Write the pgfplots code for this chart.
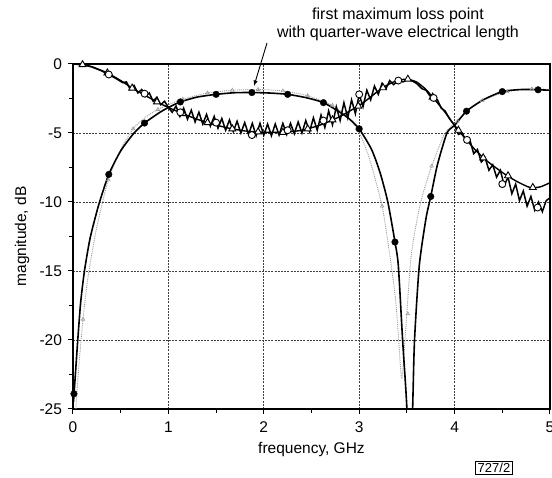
\documentclass[border=0pt]{standalone}
\usepackage{fontspec}
\setmainfont{Liberation Sans}
\usepackage{pgfplots}
\pgfplotsset{compat=1.18}

% measured S21 (thick, filled circles)
\pgfplotstableread{
x y
0.005 -24.5
0.02 -23.0
0.05 -20.0
0.08 -17.3
0.12 -15.0
0.18 -12.6
0.27 -10.2
0.375 -8.0
0.5 -6.3
0.64 -5.0
0.75 -4.28
0.9 -3.55
1.0 -3.15
1.125 -2.75
1.3 -2.4
1.5 -2.2
1.7 -2.08
1.875 -2.07
2.05 -2.1
2.25 -2.2
2.45 -2.45
2.625 -2.8
2.8 -3.5
2.9 -4.0
3.0 -4.7
3.13 -6.2
3.22 -7.9
3.3 -10.0
3.375 -12.9
3.41 -14.6
3.455 -20.0
3.50 -25.0
3.53 -32.0
3.56 -25.0
3.58 -20.0
3.63 -14.6
3.70 -11.2
3.75 -9.6
3.82 -7.3
3.92 -5.0
4.0 -4.45
4.125 -3.42
4.3 -2.6
4.5 -2.0
4.7 -1.85
4.875 -1.87
5.0 -1.9
}\sxxmeas

% simulated S21 (thin grey)
\pgfplotstableread{
x y
0.03 -25.0
0.06 -22.0
0.105 -18.5
0.16 -15.3
0.25 -11.8
0.37 -8.4
0.5 -6.2
0.63 -4.7
0.76 -3.85
0.89 -3.3
1.0 -2.95
1.15 -2.55
1.41 -2.1
1.67 -1.9
1.94 -1.85
2.2 -1.95
2.46 -2.3
2.72 -3.0
2.85 -3.7
2.98 -4.7
3.1 -6.7
3.24 -10.3
3.32 -13.8
3.38 -17.0
3.41 -19.6
3.445 -22.8
3.48 -20.0
3.54 -14.2
3.60 -11.5
3.66 -9.6
3.74 -7.8
3.82 -6.3
3.90 -5.0
4.0 -4.3
4.15 -3.3
4.29 -2.65
4.55 -2.0
4.81 -1.8
5.0 -1.85
}\sxxsim

% simulated S11 (smooth, open triangles)
\pgfplotstableread{
x y
0 0
0.1 -0.05
0.2 -0.2
0.36 -0.65
0.5 -1.2
0.62 -1.75
0.75 -2.25
0.88 -2.75
1.0 -3.15
1.15 -3.6
1.3 -4.0
1.41 -4.25
1.6 -4.6
1.8 -4.85
2.0 -4.95
2.2 -4.95
2.4 -4.8
2.6 -4.4
2.8 -3.8
3.0 -3.0
3.1 -2.5
3.2 -1.95
3.3 -1.5
3.4 -1.2
3.5 -1.1
3.6 -1.3
3.7 -1.85
3.8 -2.65
3.9 -3.5
4.0 -4.45
4.1 -5.3
4.2 -6.1
4.3 -6.8
4.4 -7.35
4.53 -8.0
4.65 -8.5
4.79 -8.95
4.9 -8.9
5.0 -8.6
}\sllsim

% measured S11 (ripple, open circles)
\pgfplotstableread{
x y
0 0
0.1 -0.05
0.2 -0.22
0.3 -0.5
0.375 -0.76
0.45 -1.05
0.52 -1.35
0.56 -1.3
0.60 -1.85
0.64 -1.55
0.68 -2.1
0.72 -1.85
0.76 -2.35
0.80 -2.1
0.84 -2.7
0.88 -2.4
0.92 -2.95
0.96 -2.7
1.00 -3.15
1.04 -3.5
1.08 -3.05
1.12 -3.8
1.16 -3.2
1.20 -4.0
1.24 -3.35
1.28 -4.2
1.32 -3.5
1.36 -4.35
1.40 -3.65
1.44 -4.5
1.48 -3.8
1.52 -4.65
1.56 -3.95
1.60 -4.8
1.64 -4.05
1.68 -4.9
1.72 -4.15
1.76 -5.0
1.80 -4.25
1.84 -5.1
1.88 -4.3
1.92 -5.2
1.96 -4.3
2.00 -5.15
2.04 -4.35
2.08 -5.2
2.12 -4.35
2.16 -5.15
2.20 -4.3
2.24 -5.1
2.28 -4.3
2.32 -5.05
2.36 -4.2
2.40 -5.0
2.44 -4.1
2.48 -4.9
2.52 -3.9
2.56 -4.8
2.60 -3.7
2.64 -4.6
2.68 -3.4
2.72 -4.4
2.76 -3.1
2.80 -4.1
2.84 -2.8
2.88 -3.9
2.92 -2.6
2.96 -3.6
3.00 -2.2
3.04 -3.1
3.08 -1.9
3.12 -2.6
3.16 -1.6
3.20 -2.2
3.24 -1.4
3.28 -1.8
3.32 -1.2
3.36 -1.5
3.41 -1.2
3.46 -1.3
3.52 -1.1
3.60 -1.4
3.66 -1.8
3.70 -1.9
3.74 -2.3
3.78 -2.46
3.82 -2.6
3.86 -3.2
3.90 -3.4
3.95 -4.0
4.00 -4.45
4.04 -5.1
4.08 -5.0
4.12 -5.6
4.16 -5.5
4.20 -6.5
4.24 -6.2
4.28 -7.1
4.32 -6.8
4.36 -7.7
4.40 -7.3
4.44 -8.2
4.48 -7.7
4.52 -8.8
4.56 -8.2
4.60 -9.4
4.64 -8.7
4.68 -9.9
4.72 -9.2
4.76 -10.3
4.80 -9.6
4.84 -10.6
4.88 -10.0
4.92 -10.7
4.96 -9.9
5.00 -9.7
}\sllmeas

\begin{document}
\begin{tikzpicture}
\begin{axis}[
  at={(0pt,0pt)}, anchor=south west,
  scale only axis, width=477pt, height=345pt,
  xmin=0, xmax=5, ymin=-25, ymax=0,
  xtick={0,1,2,3,4,5},
  ytick={-25,-20,-15,-10,-5,0},
  yticklabels={-25,-20,-15,-10,-5,0},
  minor x tick num=1, minor y tick num=1,
  tick align=outside, tick pos=left,
  major tick length=5pt, minor tick length=4pt,
  every tick/.style={black, line width=1pt},
  grid=major,
  major grid style={black!75, line width=0.6pt, dash pattern=on 2pt off 1.2pt},
  axis line style={black, line width=1.3pt},
  /pgf/number format/assume math mode=true,
  tick label style={font=\fontsize{15.5}{18}\selectfont},
  xticklabel style={yshift=-4pt},
  yticklabel style={xshift=-2.5pt},
  xlabel={frequency, GHz}, ylabel={magnitude, dB},
  every axis x label/.style={at={(axis description cs:0.5,0)}, yshift=-41pt, anchor=center, font=\fontsize{15.5}{18}\selectfont},
  every axis y label/.style={at={(axis description cs:0,0.5)}, xshift=-51pt, rotate=90, anchor=center, font=\fontsize{15.5}{18}\selectfont},
]
% simulated S21
\addplot[gray!80, line width=0.9pt, densely dotted, smooth, tension=0.4] table[x=x,y=y] {\sxxsim};
\addplot[only marks, gray!80, mark=triangle, mark size=2pt, mark options={line width=0.6pt, solid}] coordinates {
(0.105,-18.5)(0.37,-8.4)(0.63,-4.7)(0.89,-3.3)(1.15,-2.55)(1.41,-2.1)(1.67,-1.9)(1.94,-1.85)(2.2,-1.95)(2.46,-2.3)(2.72,-3.0)(2.98,-4.7)(3.24,-10.3)(3.51,-18.1)(3.76,-7.4)(4.03,-4.15)(4.29,-2.65)(4.55,-2.0)(4.81,-1.8)};
% simulated S11
\addplot[black, line width=1.4pt, smooth, tension=0.4] table[x=x,y=y] {\sllsim};
\addplot[only marks, black, mark=triangle*, mark size=4pt, mark options={fill=white, line width=0.9pt}] coordinates {
(0.1,-0.05)(0.36,-0.65)(0.62,-1.75)(0.88,-2.75)(1.15,-3.6)(1.41,-4.25)(1.67,-4.7)(1.94,-4.92)(2.2,-4.95)(2.46,-4.7)(2.72,-4.05)(2.99,-3.05)(3.25,-1.72)(3.51,-1.1)(3.77,-2.4)(4.04,-4.8)(4.3,-6.8)(4.56,-8.1)(4.82,-8.95)};
% measured S11
\addplot[black, line width=1.5pt] table[x=x,y=y] {\sllmeas};
\addplot[only marks, black, mark=*, mark size=3.5pt, mark options={fill=white, line width=0.9pt}] coordinates {
(0.375,-0.76)(0.75,-2.15)(1.125,-3.5)(1.5,-4.25)(1.875,-5.15)(2.25,-4.8)(2.625,-4.1)(3.0,-2.2)(3.41,-1.2)(3.78,-2.46)(4.13,-5.5)(4.5,-8.7)(4.87,-10.4)};
% measured S21
\addplot[black, line width=1.6pt, smooth, tension=0.4] table[x=x,y=y] {\sxxmeas};
\addplot[only marks, black, mark=*, mark size=3.3pt] coordinates {
(0.01,-23.9)(0.375,-8.0)(0.75,-4.28)(1.125,-2.75)(1.5,-2.2)(1.875,-2.07)(2.25,-2.2)(2.625,-2.8)(3.0,-4.7)(3.375,-12.9)(3.75,-9.6)(4.125,-3.42)(4.5,-2.0)(4.875,-1.87)};
\end{axis}
\node[font=\fontsize{16}{18}\selectfont, align=center] at (325pt,385pt) {first maximum loss point\\with quarter-wave electrical length};
\draw[-latex, line width=0.9pt] (194pt,366pt) -- (181pt,323pt);
\node[draw, line width=0.6pt, font=\fontsize{13}{15}\selectfont, inner sep=2pt] at (421pt,-59pt) {727/2};
\pgfresetboundingbox
\path[use as bounding box] (-73pt,-69pt) rectangle (479pt,409pt);
\end{tikzpicture}
\end{document}
